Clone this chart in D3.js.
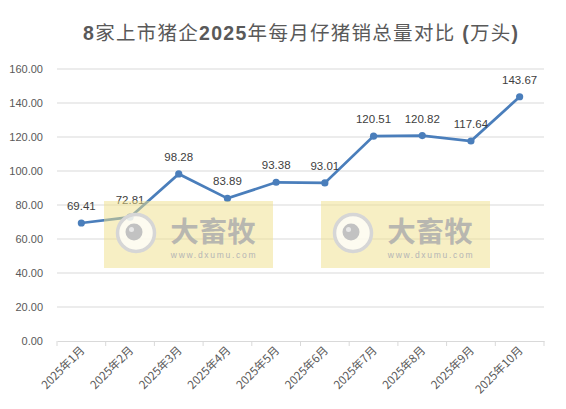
<!DOCTYPE html>
<html>
<head>
<meta charset="utf-8">
<script src="https://cdn.jsdelivr.net/npm/d3@7"></script>
<style>
  body { margin: 0; background: #fff; }
  svg { display: block; font-family: "Liberation Sans", Arial, "Noto Sans CJK SC", sans-serif; }
</style>
</head>
<body>
<svg id="chart"></svg>
<script>
const months = ['2025年1月', '2025年2月', '2025年3月', '2025年4月', '2025年5月',
  '2025年6月', '2025年7月', '2025年8月', '2025年9月', '2025年10月'];
const sales = [69.41, 72.81, 98.28, 83.89, 93.38, 93.01, 120.51, 120.82, 117.64, 143.67];
const yTicks = [0, 20, 40, 60, 80, 100, 120, 140, 160];
const title = '8家上市猪企2025年每月仔猪销总量对比 (万头)';

const W = 566, H = 409;
const margin = { top: 69, right: 22, bottom: 68, left: 57 };
const width = W - margin.left - margin.right;
const height = H - margin.top - margin.bottom;

const svg = d3.select('#chart').attr('width', W).attr('height', H);

// title: latin parts bold, CJK parts regular like the original
const t = svg.append('text')
  .attr('x', 83).attr('y', 40)
  .attr('textLength', 435).attr('lengthAdjust', 'spacing')
  .attr('font-size', 19.5).attr('fill', '#595959');
title.match(/[\x00-\x7f]+|[^\x00-\x7f]+/g).forEach(part => {
  const ascii = /^[\x00-\x7f]/.test(part);
  t.append('tspan')
    .attr('font-weight', ascii ? 'bold' : 'normal')
    .attr('font-family', ascii ? '"Liberation Sans", Arial, sans-serif' : '"Noto Sans CJK SC", sans-serif')
    .text(part);
});

const g = svg.append('g').attr('transform', `translate(${margin.left},${margin.top})`);

const x = d3.scaleBand().domain(months).range([0, width]);
const y = d3.scaleLinear().domain([0, 160]).range([height, 0]);

// gridlines
g.selectAll('.grid').data(yTicks.slice(1)).join('line')
  .attr('x1', 0).attr('x2', width)
  .attr('y1', d => y(d)).attr('y2', d => y(d))
  .attr('stroke', '#d9d9d9').attr('stroke-width', 1);

// y axis labels
g.selectAll('.ylab').data(yTicks).join('text')
  .attr('x', -14).attr('y', d => y(d) + 4)
  .attr('text-anchor', 'end')
  .attr('font-size', 11).attr('fill', '#595959')
  .text(d => d.toFixed(2));

// x axis
const xAxis = g.append('g').attr('transform', `translate(0,${height})`)
  .call(d3.axisBottom(x).tickSize(0).tickFormat(''));
xAxis.select('.domain').attr('stroke', '#d9d9d9');
g.selectAll('.xtick').data(d3.range(months.length + 1)).join('line')
  .attr('x1', d => d * x.step()).attr('x2', d => d * x.step())
  .attr('y1', height).attr('y2', height + 5)
  .attr('stroke', '#d9d9d9');

g.selectAll('.xlab').data(months).join('text')
  .attr('transform', d => `translate(${x(d) + x.bandwidth() / 2 + 4},${height + 10}) rotate(-45)`)
  .attr('text-anchor', 'end')
  .attr('font-size', 11.5).attr('fill', '#595959')
  .attr('font-family', '"Noto Sans CJK SC", sans-serif')
  .text(d => d);

const cx = (d, i) => x(months[i]) + x.bandwidth() / 2;

// line
const line = d3.line().x((d, i) => cx(d, i)).y(d => y(d));
g.append('path').datum(sales)
  .attr('fill', 'none').attr('stroke', '#4a7ebb')
  .attr('stroke-width', 2.75).attr('d', line);

g.selectAll('.pt').data(sales).join('circle')
  .attr('cx', cx).attr('cy', d => y(d)).attr('r', 3.6)
  .attr('fill', '#4a7ebb');

g.selectAll('.lab').data(sales).join('text')
  .attr('x', cx).attr('y', d => y(d) - 13)
  .attr('text-anchor', 'middle')
  .attr('font-size', 11.5).attr('fill', '#404040')
  .text(d => d.toFixed(2));

// watermarks
[104, 321].forEach(wx => {
  const wm = svg.append('g').attr('transform', `translate(${wx},201)`);
  wm.append('rect').attr('width', 169).attr('height', 67)
    .attr('fill', '#efe08a').attr('opacity', 0.5);
  wm.append('circle').attr('cx', 32).attr('cy', 32).attr('r', 18.5)
    .attr('fill', '#fff').attr('fill-opacity', 0.75)
    .attr('stroke', '#d6d6d6').attr('stroke-width', 3.5);
  wm.append('circle').attr('cx', 30).attr('cy', 31).attr('r', 8.5).attr('fill', '#c2c2c2');
  wm.append('circle').attr('cx', 27.5).attr('cy', 28.5).attr('r', 2.5).attr('fill', '#e8e8e8');
  wm.append('text').attr('x', 109).attr('y', 41)
    .attr('text-anchor', 'middle').attr('font-size', 28.5).attr('font-weight', 'bold')
    .attr('fill', '#adadad').attr('fill-opacity', 0.85)
    .attr('font-family', '"Noto Sans CJK SC", sans-serif')
    .text('大畜牧');
  wm.append('text').attr('x', 110).attr('y', 57)
    .attr('text-anchor', 'middle').attr('font-size', 8.5).attr('letter-spacing', 1.7)
    .attr('fill', '#b5b5b5')
    .text('www.dxumu.com');
});
</script>
</body>
</html>
